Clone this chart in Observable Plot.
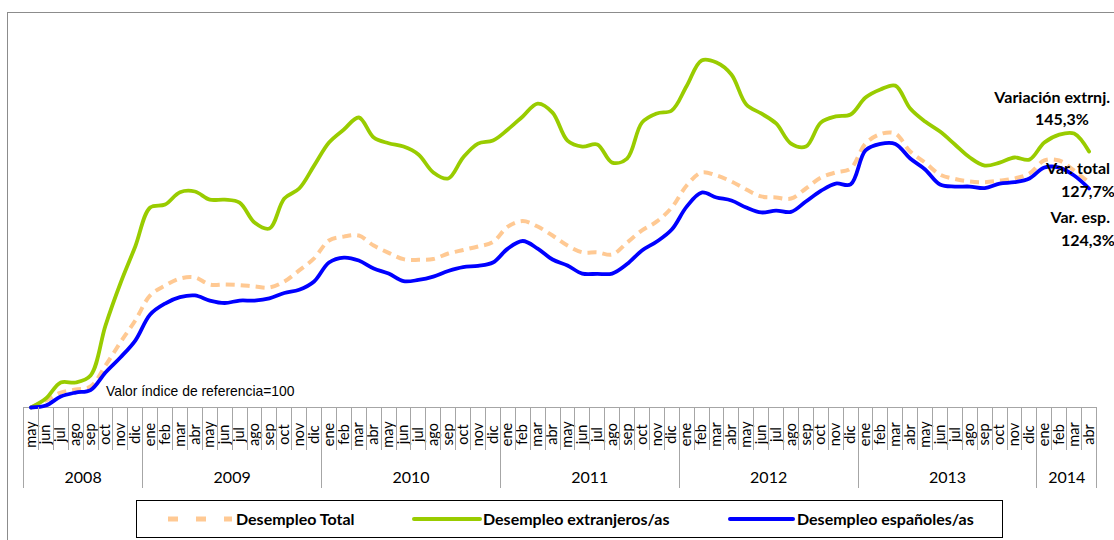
<!DOCTYPE html>
<html>
<head>
<meta charset="utf-8">
<script src="https://cdn.jsdelivr.net/npm/d3@7"></script>
<script src="https://cdn.jsdelivr.net/npm/@observablehq/plot@0.6"></script>
<style>
  html, body { margin: 0; padding: 0; background: #fff; overflow: hidden; }
  #chart svg { display: block; }
</style>
</head>
<body>
<div id="chart"></div>
<script>
// ---- Data ----
const months = [
  "may","jun","jul","ago","sep","oct","nov","dic",
  "ene","feb","mar","abr","may","jun","jul","ago","sep","oct","nov","dic",
  "ene","feb","mar","abr","may","jun","jul","ago","sep","oct","nov","dic",
  "ene","feb","mar","abr","may","jun","jul","ago","sep","oct","nov","dic",
  "ene","feb","mar","abr","may","jun","jul","ago","sep","oct","nov","dic",
  "ene","feb","mar","abr","may","jun","jul","ago","sep","oct","nov","dic",
  "ene","feb","mar","abr"
];
const years = ["2008","2009","2010","2011","2012","2013","2014"];
const monthsPerYear = [8, 12, 12, 12, 12, 12, 4];

// Índice (mayo 2008 = 100)
const total = [
  100, 104.0, 108.5, 110.2, 111.9, 123.8, 136.9, 149.4,
  163.6, 169.2, 173.2, 173.8, 169.8, 169.8, 169.5, 168.7, 168.1, 171.5, 177.8, 184.6,
  194.8, 197.0, 197.6, 191.9, 187.8, 184.2, 183.8, 184.3, 187.4, 189.4, 191.4, 193.9,
  202.7, 205.8, 202.7, 197.6, 191.9, 188.1, 188.1, 186.8, 193.6, 200.5, 205.6, 213.5,
  226.0, 233.4, 231.7, 228.3, 223.7, 219.8, 219.2, 218.6, 224.3, 230.5, 233.4, 235.6,
  249.8, 255.2, 255.5, 245.3, 239.0, 232.2, 229.7, 228.3, 227.9, 228.8, 230.0, 232.8,
  240.2, 240.2, 234.5, 227.7
];
const extranjeros = [
  100, 105.1, 114.2, 114.2, 118.2, 146.5, 170.4, 191.4,
  213.5, 215.2, 222.2, 222.6, 218.0, 218.0, 216.3, 205.0, 201.6, 218.6, 224.3, 237.3,
  250.4, 257.8, 264.6, 253.2, 250.0, 248.1, 243.6, 233.4, 230.0, 241.9, 249.8, 251.5,
  257.8, 265.2, 272.5, 267.4, 251.5, 248.1, 249.3, 239.0, 241.3, 261.7, 266.9, 268.6,
  282.5, 297.0, 295.8, 289.0, 272.0, 266.9, 261.2, 249.8, 248.1, 261.7, 265.2, 266.3,
  275.9, 280.5, 282.7, 269.7, 262.3, 256.6, 249.3, 241.9, 237.3, 239.0, 241.9, 240.7,
  250.4, 254.9, 255.5, 245.3
];
const espanoles = [
  100, 101.1, 106.2, 108.5, 109.9, 119.9, 128.4, 138.0,
  152.8, 159.0, 162.6, 163.6, 160.7, 159.3, 160.7, 160.7, 161.9, 165.0, 166.8, 171.5,
  182.3, 185.1, 183.4, 178.9, 176.0, 171.7, 172.4, 174.3, 177.5, 179.7, 180.4, 182.3,
  190.2, 194.5, 190.2, 184.0, 180.6, 176.0, 175.9, 176.0, 181.4, 189.1, 194.2, 201.0,
  214.0, 222.0, 219.2, 217.5, 213.5, 210.7, 211.8, 211.0, 216.9, 222.9, 227.1, 226.6,
  245.9, 249.6, 249.6, 241.3, 235.1, 226.6, 225.4, 225.4, 224.5, 227.1, 227.9, 230.0,
  236.2, 236.2, 231.7, 224.3
];
const seriesNames = ["Desempleo Total", "Desempleo extranjeros/as", "Desempleo españoles/as"];
const seriesColors = ["#FFC993", "#99CC00", "#0000FF"];
const endLabels = [
  ["Variación extrnj.", "145,3%"],
  ["Var. total", "127,7%"],
  ["Var. esp.", "124,3%"]
];
const refNote = "Valor índice de referencia=100";

// ---- Derived ----
const idx = d3.range(months.length);
const yearStarts = [];
{ let s = 0; for (const n of monthsPerYear) { yearStarts.push(s); s += n; } }
const yearCenters = yearStarts.map((s, k) => s + monthsPerYear[k] / 2 - 0.5);
const yearBounds = [...yearStarts.map(s => s - 0.5), months.length - 0.5];
const monthBounds = d3.range(months.length + 1).map(k => k - 0.5);

const FONT = "Lato, 'Open Sans', sans-serif";

const chart = Plot.plot({
  width: 1114,
  height: 540,
  marginLeft: 23,
  marginRight: 18,
  marginTop: 19.4,
  marginBottom: 133,
  x: {domain: [-0.5, months.length - 0.5], axis: null},
  y: {domain: [100, 320], axis: null},
  style: {fontFamily: FONT, background: "transparent", overflow: "visible", color: "#000"},
  marks: [
    Plot.ruleY([100], {stroke: "#a6a6a6", strokeWidth: 1}),
    Plot.line(idx, {x: i => i, y: i => total[i], stroke: seriesColors[0], strokeWidth: 4,
      strokeDasharray: "9,6", strokeLinecap: "butt", curve: "catmull-rom"}),
    Plot.line(idx, {x: i => i, y: i => extranjeros[i], stroke: seriesColors[1], strokeWidth: 3.8,
      curve: "catmull-rom"}),
    Plot.line(idx, {x: i => i, y: i => espanoles[i], stroke: seriesColors[2], strokeWidth: 3.8,
      curve: "catmull-rom"}),
    Plot.text(idx, {x: i => i, text: i => months[i], frameAnchor: "bottom", dy: 27,
      rotate: -90, fontSize: 14.5, fill: "#000", textAnchor: "middle", lineAnchor: "middle"}),
    Plot.text(d3.range(years.length), {x: k => yearCenters[k], text: k => years[k],
      frameAnchor: "bottom", dy: 70, fontSize: 16, fill: "#000", lineAnchor: "middle"})
  ]
});

const svg = d3.select(chart);
const xs = chart.scale("x");
const baseY = 407;

// Tick lines of the category axis
const ticks = svg.append("g").attr("stroke", "#a6a6a6").attr("stroke-width", 1);
monthBounds.forEach(b => {
  const x = Math.round(xs.apply(b)) + 0.5;
  const isYear = yearBounds.includes(b);
  ticks.append("line").attr("x1", x).attr("x2", x)
    .attr("y1", baseY).attr("y2", isYear ? 488 : 450);
});

// Outer frame
svg.append("rect").attr("x", 7.5).attr("y", 12.5).attr("width", 1200).attr("height", 600)
  .attr("fill", "none").attr("stroke", "#8c8c8c").attr("stroke-width", 1);

// Reference note
svg.append("text").attr("x", 106).attr("y", 391).attr("dy", "0.35em")
  .attr("text-anchor", "start")
  .attr("font-family", "'Liberation Sans', Arial, sans-serif").attr("font-size", 13.9)
  .attr("fill", "#000").text(refNote);

// End annotations (kept inside the visible width)
const ann = svg.append("g").attr("font-family", FONT).attr("font-weight", "bold")
  .attr("font-size", 16).attr("fill", "#000");
const annPos = [[1110, 97, 1035, 119], [1110, 168, 1061, 191], [1110, 217, 1061, 240]];
endLabels.forEach((lab, k) => {
  const p = annPos[k];
  ann.append("text").attr("x", p[0]).attr("y", p[1]).attr("dy", "0.35em")
    .attr("text-anchor", "end").text(lab[0]);
  ann.append("text").attr("x", p[2]).attr("y", p[3]).attr("dy", "0.35em")
    .attr("text-anchor", "start").text(lab[1]);
});

// Legend
const lg = svg.append("g").attr("text-anchor", "start");
lg.append("rect").attr("x", 136.5).attr("y", 500.5).attr("width", 866).attr("height", 37)
  .attr("fill", "#fff").attr("stroke", "#000").attr("stroke-width", 1);
const legendItems = [
  {x1: 168, x2: 232, tx: 236, dash: "10,18", width: 5},
  {x1: 414, x2: 480, tx: 483, dash: null, width: 4},
  {x1: 730, x2: 793, tx: 797, dash: null, width: 4}
];
legendItems.forEach((it, k) => {
  const l = lg.append("line").attr("x1", it.x1).attr("x2", it.x2).attr("y1", 519).attr("y2", 519)
    .attr("stroke", seriesColors[k]).attr("stroke-width", it.width);
  if (it.dash) l.attr("stroke-dasharray", it.dash);
  else l.attr("stroke-linecap", "round");
  lg.append("text").attr("x", it.tx).attr("y", 519).attr("dy", "0.35em")
    .attr("font-family", FONT).attr("font-weight", "bold").attr("font-size", 16)
    .attr("fill", "#000").text(seriesNames[k]);
});

document.getElementById("chart").appendChild(chart);
</script>
</body>
</html>
